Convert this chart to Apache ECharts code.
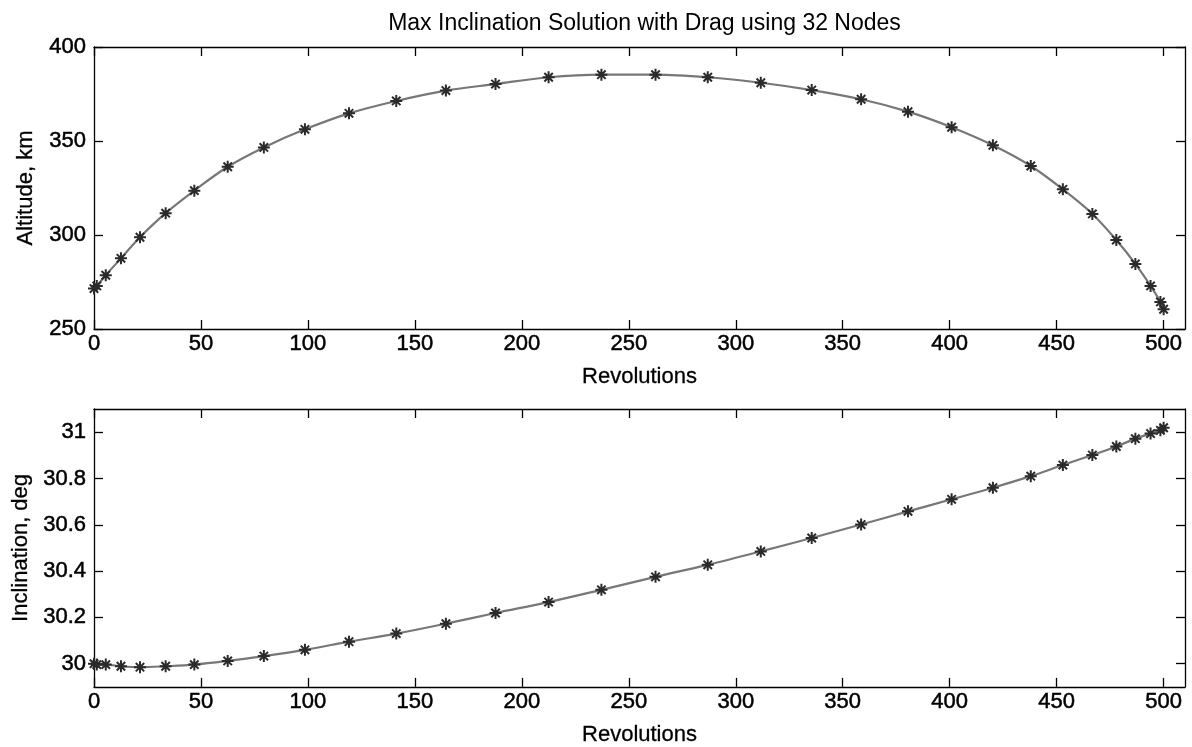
<!DOCTYPE html>
<html>
<head>
<meta charset="utf-8">
<title>Max Inclination Solution with Drag using 32 Nodes</title>
<script src="https://cdn.jsdelivr.net/npm/echarts@6/dist/echarts.min.js"></script>
<style>
  html, body { margin: 0; padding: 0; background: #ffffff; }
  #chart { width: 1192px; height: 747px; }
</style>
</head>
<body>
<div id="chart"></div>
<script>
// Node times of the 32-node solution (revolutions)
const revolutions = [0, 1.3, 5.5, 12.6, 21.5, 33.5, 46.9, 62.5, 79.4, 98.6, 119.2, 141.3, 164.5,
  187.7, 212.5, 237.2, 262.5, 286.9, 311.7, 335.5, 358.6,
  380.5, 400.9, 420.2, 437.9, 452.9, 466.7, 477.9, 486.8, 493.9, 498.5, 500];

// Altitude at each node (km)
const altitude = [271.5, 272.9, 278.6, 287.6, 298.8, 311.6, 323.6, 336.3, 346.6, 356.2, 364.7, 371.3, 376.8,
  380.3, 383.9, 385.3, 385.3, 383.9, 381.0, 377.1, 372.2,
  365.6, 357.3, 347.7, 336.7, 324.3, 311.2, 297.3, 284.6, 272.9, 264.4, 260.5];

// Inclination at each node (deg)
const inclination = [30.0, 29.996, 29.996, 29.989, 29.985, 29.989, 29.996, 30.012, 30.033, 30.060, 30.095, 30.130, 30.173,
  30.219, 30.266, 30.319, 30.375, 30.427, 30.485, 30.543, 30.601,
  30.658, 30.710, 30.760, 30.810, 30.858, 30.901, 30.938, 30.972, 30.994, 31.008, 31.019];

// Tick values
const revTicks = [0, 50, 100, 150, 200, 250, 300, 350, 400, 450, 500];
const altTicks = [250, 300, 350, 400];
const incTicks = [30, 30.2, 30.4, 30.6, 30.8, 31];

const titleText = 'Max Inclination Solution with Drag using 32 Nodes';
const xName = 'Revolutions';
const altName = 'Altitude, km';
const incName = 'Inclination, deg';

const FONT = '"Liberation Sans", Arial, Helvetica, sans-serif';
const BLACK = '#000000';
const LINE_GRAY = '#777777';
const MARK = '#2a2a2a';

// asterisk marker: plus and cross strokes
const STAR = 'path://M5 0 L5 10 M0 5 L10 5 M1.5 1.5 L8.5 8.5 M8.5 1.5 L1.5 8.5';

// slightly heavier text, like the plot's labels
const labelText = { fontFamily: FONT, fontSize: 22, color: BLACK, textBorderColor: BLACK, textBorderWidth: 0.5 };

function pairs(xs, ys) { return xs.map((x, i) => [x, ys[i]]); }

const axisLineStyle = { show: true, onZero: false, lineStyle: { color: BLACK, width: 1.3 } };

function mainX(gridIndex, showName) {
  return {
    type: 'value', gridIndex, position: 'bottom', min: 0, max: 510,
    name: showName, nameLocation: 'middle', nameGap: 37,
    nameTextStyle: Object.assign({}, labelText, { textBorderWidth: 0.3 }),
    axisLine: axisLineStyle,
    axisTick: { show: true, inside: true, length: 9, customValues: revTicks, lineStyle: { color: BLACK, width: 1.3 } },
    axisLabel: Object.assign({ show: true, customValues: revTicks, margin: 4 }, labelText),
    splitLine: { show: false }
  };
}
function boxX(gridIndex) {
  return {
    type: 'value', gridIndex, position: 'top', min: 0, max: 510,
    axisLine: axisLineStyle,
    axisTick: { show: true, inside: true, length: 9, customValues: revTicks, lineStyle: { color: BLACK, width: 1.3 } },
    axisLabel: { show: false }, splitLine: { show: false }
  };
}
function mainY(gridIndex, min, max, ticks, name, fmt) {
  return {
    type: 'value', gridIndex, position: 'left', min, max,
    name, nameLocation: 'middle', nameGap: 57, nameRotate: 90,
    nameTextStyle: Object.assign({}, labelText, { textBorderWidth: 0.3 }),
    axisLine: axisLineStyle,
    axisTick: { show: true, inside: true, length: 9, customValues: ticks, lineStyle: { color: BLACK, width: 1.3 } },
    axisLabel: Object.assign({ show: true, customValues: ticks, margin: 8, formatter: fmt }, labelText),
    splitLine: { show: false }
  };
}
function boxY(gridIndex, min, max, ticks) {
  return {
    type: 'value', gridIndex, position: 'right', min, max,
    axisLine: axisLineStyle,
    axisTick: { show: true, inside: true, length: 9, customValues: ticks, lineStyle: { color: BLACK, width: 1.3 } },
    axisLabel: { show: false }, splitLine: { show: false }
  };
}
function nodeSeries(xi, yi, data) {
  return {
    type: 'line', xAxisIndex: xi, yAxisIndex: yi, data,
    smooth: 0.35, clip: false,
    lineStyle: { color: LINE_GRAY, width: 2.2 },
    symbol: STAR, symbolSize: 12, showAllSymbol: true,
    itemStyle: { color: MARK, borderColor: MARK, borderWidth: 2 },
    emphasis: { disabled: true }, animation: false, silent: true
  };
}

const chart = echarts.init(document.getElementById('chart'), null, { renderer: 'canvas' });
chart.setOption({
  backgroundColor: '#ffffff',
  animation: false,
  title: {
    text: titleText, left: 639.5, top: 7, textAlign: 'center',
    textStyle: { fontFamily: FONT, fontSize: 23, fontWeight: 'normal', color: BLACK }
  },
  grid: [
    { left: 94, top: 47, width: 1091, height: 282 },
    { left: 94, top: 409, width: 1091, height: 283 }
  ],
  xAxis: [mainX(0, xName), boxX(0), mainX(1, xName), boxX(1)],
  yAxis: [
    mainY(0, 250, 400, altTicks, altName, v => String(v)),
    boxY(0, 250, 400, altTicks),
    mainY(1, 29.9, 31.1, incTicks, incName, v => String(Math.round(v * 10) / 10)),
    boxY(1, 29.9, 31.1, incTicks)
  ],
  series: [
    nodeSeries(0, 0, pairs(revolutions, altitude)),
    nodeSeries(2, 2, pairs(revolutions, inclination))
  ]
});
</script>
</body>
</html>
